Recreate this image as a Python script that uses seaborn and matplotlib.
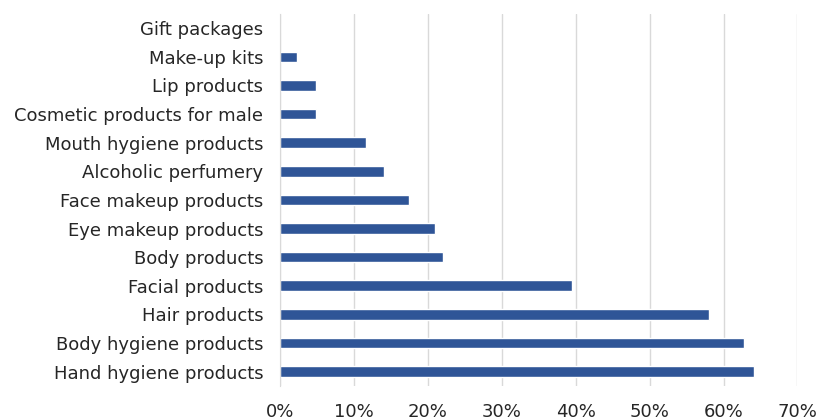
import matplotlib
matplotlib.use("Agg")
import pandas as pd
import seaborn as sns
import matplotlib.pyplot as plt
from matplotlib.ticker import PercentFormatter

# categories listed top to bottom as in the chart
categories = ["Gift packages", "Make-up kits", "Lip products",
              "Cosmetic products for male", "Mouth hygiene products",
              "Alcoholic perfumery", "Face makeup products",
              "Eye makeup products", "Body products", "Facial products",
              "Hair products", "Body hygiene products", "Hand hygiene products"]
shares = [0.0, 0.023, 0.048, 0.048, 0.116, 0.140, 0.175,
          0.210, 0.220, 0.395, 0.581, 0.628, 0.641]
xticks = [0, 0.1, 0.2, 0.3, 0.4, 0.5, 0.6, 0.7]

df = pd.DataFrame({"category": categories, "share": shares})

sns.set_style("white")
plt.rcParams["font.family"] = ["DejaVu Sans"]

fig = plt.figure(figsize=(8.2, 4.2), dpi=100)
ax = fig.add_axes([0.3415, 0.081, 0.631, 0.886])

sns.barplot(data=df, x="share", y="category", orient="h", color="#2F5597",
            width=0.37, saturation=1, ax=ax)

ax.set_xlim(0, 0.7)
ax.set_ylim(len(categories) - 0.5, -0.5)
ax.set_xticks(xticks)
ax.xaxis.set_major_formatter(PercentFormatter(1.0, decimals=0))
ax.grid(axis="x", color="#d9d9d9", linewidth=1)
ax.set_axisbelow(True)
for side in ["top", "right", "bottom"]:
    ax.spines[side].set_visible(False)
ax.spines["left"].set_color("#d9d9d9")
ax.tick_params(axis="x", length=0, pad=12, labelsize=13, labelcolor="#262626")
ax.tick_params(axis="y", length=0, pad=12, labelsize=13, labelcolor="#262626")
ax.set_xlabel("")
ax.set_ylabel("")

fig.savefig("out.png", dpi=100)
